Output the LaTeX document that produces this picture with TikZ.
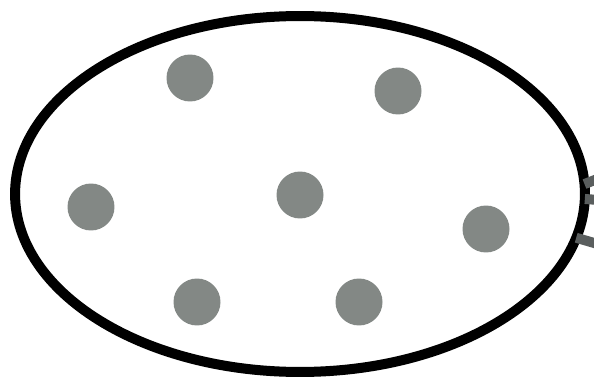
\documentclass[tikz,border=0pt]{standalone}
\usepackage{tikz}
\usetikzlibrary{shapes.geometric}
\definecolor{dotgray}{RGB}{131,136,133}
\definecolor{linkgray}{RGB}{90,94,94}

\begin{document}
\begin{tikzpicture}[
    x=0.02cm, y=-0.02cm,
    cellbox/.style={draw=black, ellipse, line width=0.2cm, inner sep=0pt, outer sep=0pt,
                    minimum width=11.4cm, minimum height=7.12cm},
    particle/.style={circle, fill=dotgray, inner sep=0pt, minimum size=0.94cm},
    link/.style={draw=linkgray, line width=0.2cm},
]
\clip (0,0) rectangle (594,378);

% Outer boundary
\node[cellbox] (cell) at (300,194) {};

% Particles inside
\node[particle] (p1) at (190,78) {};
\node[particle] (p2) at (398,91) {};
\node[particle] (p3) at (91,207) {};
\node[particle] (p4) at (300,195) {};
\node[particle] (p5) at (486,229) {};
\node[particle] (p6) at (197,302) {};
\node[particle] (p7) at (359,302) {};

% Links leaving the boundary on the right
\coordinate (out1) at (625,168);
\coordinate (out2) at (625,202);
\coordinate (out3) at (625,252);
\draw[link] (cell.2) -- (out1);
\draw[link] (cell.-1.6) -- (out2);
\draw[link] (cell.-9) -- (out3);
\end{tikzpicture}
\end{document}
